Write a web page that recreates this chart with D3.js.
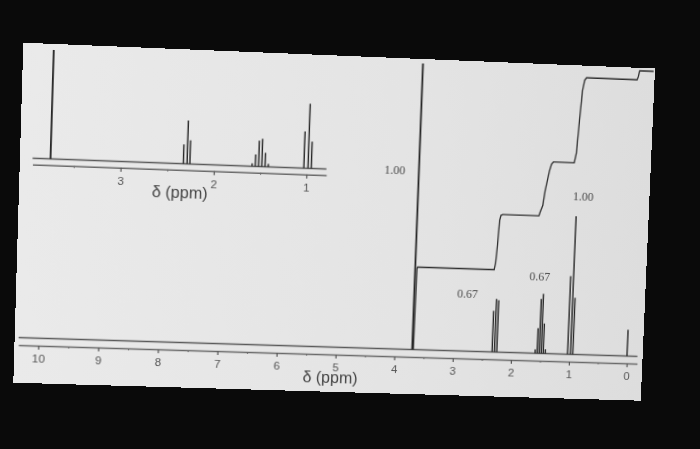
<!DOCTYPE html>
<html>
<head>
<meta charset="utf-8">
<script src="https://cdn.jsdelivr.net/npm/d3@7"></script>
<style>
  html, body { margin: 0; padding: 0; background: #0a0a0a; width: 700px; height: 449px; overflow: hidden; }
  #sheet { position: absolute; left: 0; top: 0; width: 630px; height: 340px; transform-origin: 0 0; }
</style>
</head>
<body>
<div id="sheet"></div>
<script>
// spectrum data (ppm, relative height)
const mainTicks = [10, 9, 8, 7, 6, 5, 4, 3, 2, 1, 0];
const insetTicks = [3, 2, 1];
const mainLines = [
    [3.70, 100],
    [2.33, 14.5], [2.29, 18.7], [2.25, 18.3],
    [1.59, 1.4], [1.555, 8.9], [1.52, 19.2], [1.485, 21], [1.45, 10.6], [1.415, 1.5],
    [1.03, 27.6], [0.98, 48.7], [0.94, 20],
    [0, 9.3]
];
const insetLines = [
    [3.75, 100],
    [2.33, 17.9], [2.29, 40], [2.26, 21.8],
    [1.59, 2.8], [1.555, 11], [1.52, 24], [1.485, 25.8], [1.45, 12.9], [1.415, 2.8],
    [1.03, 34.1], [0.985, 59.9], [0.95, 24.9]
];
// integral trace, (ppm, integral units)
const integral = [
    [3.68, 0], [3.67, 0.98], [3.66, 1.0], [2.35, 1.0], [2.33, 1.08], [2.31, 1.3],
    [2.29, 1.6], [2.27, 1.66], [2.24, 1.67], [1.62, 1.67], [1.6, 1.72], [1.56, 1.8],
    [1.53, 1.98], [1.5, 2.1], [1.47, 2.22], [1.44, 2.3], [1.41, 2.33], [1.05, 2.33],
    [1.02, 2.45], [0.99, 2.85], [0.96, 3.2], [0.93, 3.33], [0.9, 3.36], [0.03, 3.36],
    [0.01, 3.4], [-0.01, 3.47], [-0.25, 3.47]
];
const integralLabels = ['1.00', '0.67', '0.67', '1.00'];

const W = 630, H = 340;
// where the corners of the sheet sit in the photo (TL, TR, BR, BL)
const QUAD = [[23.3, 42.7], [655, 68.5], [640.7, 400.7], [13.3, 382.7]];
const SANS = '"Liberation Sans", Arial, sans-serif';
const SERIF = '"Liberation Serif", "Times New Roman", serif';

var sheetTransform = (q) => {
    const [[x0, y0], [x1, y1], [x2, y2], [x3, y3]] = q;
    const sx = x0 - x1 + x2 - x3, sy = y0 - y1 + y2 - y3;
    const dx1 = x1 - x2, dx2 = x3 - x2, dy1 = y1 - y2, dy2 = y3 - y2;
    const den = dx1 * dy2 - dx2 * dy1;
    const g = (sx * dy2 - dx2 * sy) / den;
    const h = (dx1 * sy - sx * dy1) / den;
    const a = x1 - x0 + g * x1, b = x3 - x0 + h * x3;
    const d = y1 - y0 + g * y1, e = y3 - y0 + h * y3;
    return `matrix3d(${a / W},${d / W},0,${g / W},${b / H},${e / H},0,${h / H},0,0,1,0,${x0},${y0},0,1)`;
};

d3.select('#sheet').style('transform', sheetTransform(QUAD));

var svg = d3.select('#sheet').append('svg')
    .attr('width', W)
    .attr('height', H);

var grad = svg.append('defs').append('linearGradient')
    .attr('id', 'paper');
grad.append('stop').attr('offset', '0%').attr('stop-color', '#eaeaea');
grad.append('stop').attr('offset', '60%').attr('stop-color', '#e4e4e4');
grad.append('stop').attr('offset', '100%').attr('stop-color', '#dddddd');

svg.append('rect')
    .attr('width', W)
    .attr('height', H)
    .attr('fill', 'url(#paper)');

var drawAxis = (g, scale, y, ticks, minor) => {
    g.append('g')
        .attr('transform', `translate(0,${y})`)
        .call(d3.axisBottom(scale).tickValues(minor).tickSize(2).tickFormat('').tickSizeOuter(0))
        .call(a => a.select('.domain').remove())
        .selectAll('line').attr('stroke', '#666');
    var ax = g.append('g')
        .attr('transform', `translate(0,${y})`)
        .call(d3.axisBottom(scale).tickValues(ticks).tickFormat(d3.format('d'))
            .tickSize(4).tickPadding(5).tickSizeOuter(0));
    ax.select('.domain').attr('stroke', '#6a6a6a').attr('stroke-width', 1.4);
    ax.selectAll('line').attr('stroke', '#555').attr('stroke-width', 1.2);
    ax.selectAll('text').attr('fill', '#555').attr('font-size', 11.5)
        .attr('font-family', SANS);
};

var drawLines = (g, data, x, y) => {
    g.selectAll('line.peak')
        .data(data)
        .enter().append('line')
        .classed('peak', true)
        .attr('x1', d => x(d[0]))
        .attr('x2', d => x(d[0]))
        .attr('y1', y(0))
        .attr('y2', d => y(d[1]))
        .attr('stroke', '#262626')
        .attr('stroke-width', d => d[1] > 90 ? 1.8 : 1.4);
};

// ---- main spectrum ----
const BASE = 294.5, AXIS_Y = 302;
const xMain = d3.scaleLinear().domain([10.33, -0.18]).range([3.9, 624.6]);
const yMain = d3.scaleLinear().domain([0, 100]).range([BASE, 4.5]);
const yInt = d3.scaleLinear().domain([0, 1]).range([BASE, BASE - 84]);

var main = svg.append('g').classed('main', true);

main.append('line')
    .attr('x1', xMain.range()[0]).attr('x2', xMain.range()[1])
    .attr('y1', BASE).attr('y2', BASE)
    .attr('stroke', '#5a5a5a').attr('stroke-width', 1.4);

drawAxis(main, xMain, AXIS_Y, mainTicks, d3.range(0.5, 10, 1));
drawLines(main, mainLines, xMain, yMain);

main.append('path')
    .attr('d', d3.line().x(d => xMain(d[0])).y(d => yInt(d[1]))(integral))
    .attr('fill', 'none')
    .attr('stroke', '#2e2e2e')
    .attr('stroke-width', 1.3);

const labelPos = [[4.11, 113], [2.79, 236], [1.56, 216], [0.87, 133]];
main.selectAll('text.int')
    .data(integralLabels)
    .enter().append('text')
    .classed('int', true)
    .attr('x', (d, i) => xMain(labelPos[i][0]))
    .attr('y', (d, i) => labelPos[i][1] + 4)
    .attr('text-anchor', 'middle')
    .attr('font-family', SERIF)
    .attr('font-size', 12)
    .attr('fill', '#4a4a4a')
    .text(d => d);

main.append('text')
    .attr('x', 314)
    .attr('y', 331)
    .attr('text-anchor', 'middle')
    .attr('font-family', SANS)
    .attr('font-size', 16)
    .attr('fill', '#444')
    .text('δ (ppm)');

// ---- expanded inset ----
const IBASE = 114.5, IAXIS_Y = 120.8;
const xInset = d3.scaleLinear().domain([3.94, 0.785]).range([12.4, 302.8]);
const yInset = d3.scaleLinear().domain([0, 100]).range([IBASE, 6]);

var inset = svg.append('g').classed('inset', true);

inset.append('line')
    .attr('x1', xInset.range()[0]).attr('x2', xInset.range()[1])
    .attr('y1', IBASE).attr('y2', IBASE)
    .attr('stroke', '#5a5a5a').attr('stroke-width', 1.4);

drawAxis(inset, xInset, IAXIS_Y, insetTicks, [3.5, 2.5, 1.5]);
drawLines(inset, insetLines, xInset, yInset);

inset.append('text')
    .attr('x', 158)
    .attr('y', 149.5)
    .attr('text-anchor', 'middle')
    .attr('font-family', SANS)
    .attr('font-size', 16)
    .attr('fill', '#444')
    .text('δ (ppm)');
</script>
</body>
</html>
